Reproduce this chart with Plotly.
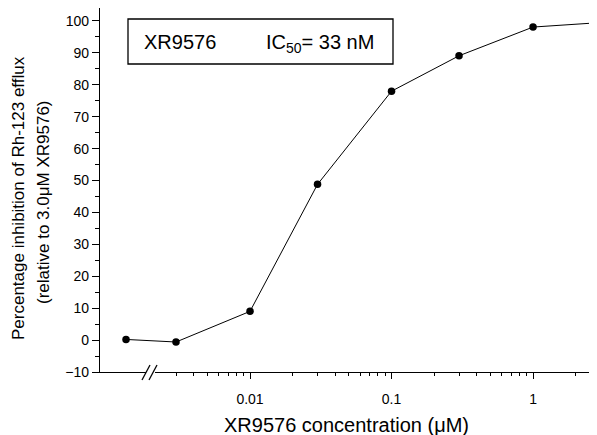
import numpy as np
import plotly.graph_objects as go

# Data
conc_uM = [0.00133, 0.003, 0.01, 0.03, 0.1, 0.3, 1.0, 3.0]
inhibition_pct = [0.2, -0.6, 9.0, 48.8, 78.0, 89.1, 98.1, 99.5]
x_tick_vals = [0.01, 0.1, 1]
x_tick_text = ["0.01", "0.1", "1"]
x_minor_vals = [0.003, 0.004, 0.005, 0.006, 0.007, 0.008, 0.009,
                0.02, 0.03, 0.04, 0.05, 0.06, 0.07, 0.08, 0.09,
                0.2, 0.3, 0.4, 0.5, 0.6, 0.7, 0.8, 0.9, 2, 3]
y_tick_vals = list(range(-10, 101, 10))

# page is rendered with an 8px body margin; work in page pixels
OFF = 8
PAGE_W, PAGE_H = 597, 435
W, H = PAGE_W - OFF, PAGE_H - OFF
PL, PR, PT, PB = 100, 597, 8, 372  # plot area in page pixels
L, R, T, B = PL - OFF, PAGE_W - PR, PT - OFF, PAGE_H - PB
pw, ph = PR - PL, PB - PT

def px(x):  # page pixel -> paper x
    return (x - PL) / pw

def py(y):  # page pixel -> paper y
    return (PB - y) / ph

font = "Liberation Sans, Arial, sans-serif"

fig = go.Figure()
fig.add_trace(go.Scatter(
    x=conc_uM, y=inhibition_pct, mode="lines+markers",
    line=dict(color="black", width=1),
    marker=dict(color="black", size=7.5),
    showlegend=False, cliponaxis=True,
))

fig.update_xaxes(
    type="log", range=[-3.060, 0.452],
    tickvals=x_tick_vals, ticktext=x_tick_text,
    ticks="outside", ticklen=6, tickwidth=1, tickcolor="black",
    ticklabelstandoff=8,
    minor=dict(tickvals=x_minor_vals, ticks="outside", ticklen=3, tickcolor="black", showgrid=False),
    showline=True, linecolor="black", linewidth=1.3,
    showgrid=False, zeroline=False,
    tickfont=dict(family=font, size=14, color="black"),
)
fig.update_yaxes(
    range=[-10, 104.07],
    tickvals=y_tick_vals,
    ticks="outside", ticklen=7, tickwidth=1, tickcolor="black",
    minor=dict(dtick=5, tick0=0, ticks="outside", ticklen=4, tickcolor="black", showgrid=False),
    showline=True, linecolor="black", linewidth=1.3,
    showgrid=False, zeroline=False,
    tickfont=dict(family=font, size=14, color="black"),
)

shapes = []
# axis break: white gap and two slashes
shapes.append(dict(type="rect", xref="paper", yref="paper",
                   x0=px(146), x1=px(155), y0=py(375), y1=py(369),
                   fillcolor="white", line=dict(width=0), layer="above"))
for x0 in (142, 149):
    shapes.append(dict(type="line", xref="paper", yref="paper",
                       x0=px(x0), y0=py(380), x1=px(x0 + 8), y1=py(365),
                       line=dict(color="black", width=1.3), layer="above"))
# label box
shapes.append(dict(type="rect", xref="paper", yref="paper",
                   x0=px(128), x1=px(393), y0=py(64), y1=py(19),
                   line=dict(color="black", width=1.3), fillcolor="rgba(0,0,0,0)"))

annotations = [
    dict(text="XR9576", xref="paper", yref="paper", x=px(142), y=py(42),
         xanchor="left", yanchor="middle", showarrow=False,
         font=dict(family=font, size=20, color="black")),
    dict(text="IC<sub>50</sub>= 33 nM", xref="paper", yref="paper", x=px(264), y=py(44),
         xanchor="left", yanchor="middle", showarrow=False,
         font=dict(family=font, size=20, color="black")),
    dict(text="XR9576 concentration (μM)", xref="paper", yref="paper",
         x=px(346), y=py(425), xanchor="center", yanchor="middle", showarrow=False,
         font=dict(family=font, size=20, color="black")),
    dict(text="Percentage inhibition of Rh-123 efflux", xref="paper", yref="paper",
         x=px(19), y=py(198), xanchor="center", yanchor="middle", showarrow=False,
         textangle=-90, font=dict(family=font, size=17, color="black")),
    dict(text="(relative to 3.0μM XR9576)", xref="paper", yref="paper",
         x=px(43), y=py(202), xanchor="center", yanchor="middle", showarrow=False,
         textangle=-90, font=dict(family=font, size=17, color="black")),
]

fig.update_layout(
    width=W, height=H,
    margin=dict(l=L, r=R, t=T, b=B),
    paper_bgcolor="white", plot_bgcolor="white",
    shapes=shapes, annotations=annotations,
    font=dict(family=font, color="black"),
)

fig.write_html("out.html")
